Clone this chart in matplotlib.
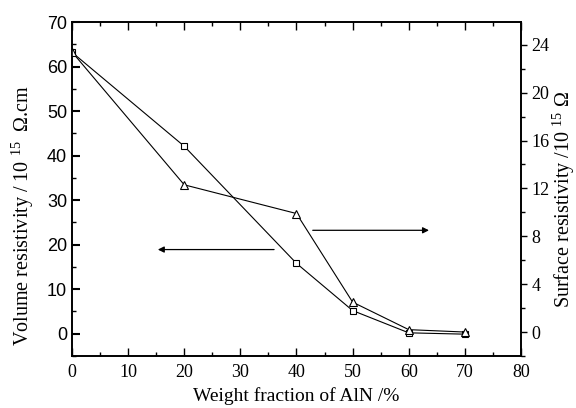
import matplotlib
matplotlib.use("Agg")
import matplotlib.pyplot as plt
from matplotlib.ticker import MultipleLocator

plt.rcParams['font.family'] = 'Liberation Serif'
plt.rcParams['mathtext.fontset'] = 'custom'
plt.rcParams['mathtext.rm'] = 'Liberation Serif'
plt.rcParams['mathtext.it'] = 'Liberation Serif:italic'

# data
aln_wt = [0, 20, 40, 50, 60, 70]
volume_res = [63.2, 42.1, 15.8, 5.2, 0.2, -0.1]     # 10^15 ohm.cm (left)
surface_res = [23.4, 12.3, 9.9, 2.5, 0.2, 0.0]      # 10^15 ohm (right)

fig = plt.figure(figsize=(5.76, 4.08), dpi=100)
ax1 = fig.add_axes([0.125, 0.1275, 0.7795, 0.8185])
ax2 = ax1.twinx()

ax1.plot(aln_wt, volume_res, color='black', lw=0.8, marker='s', ms=5,
         mfc='white', mec='black', mew=0.8)
ax2.plot(aln_wt, surface_res, color='black', lw=0.8, marker='^', ms=6,
         mfc='white', mec='black', mew=0.8)

ax1.set_xlim(0, 80)
ax1.set_ylim(-5, 70)
ax2.set_ylim(-2, 25.9)

ax1.xaxis.set_major_locator(MultipleLocator(10))
ax1.xaxis.set_minor_locator(MultipleLocator(5))
ax1.yaxis.set_major_locator(MultipleLocator(10))
ax1.yaxis.set_minor_locator(MultipleLocator(5))
ax2.yaxis.set_major_locator(MultipleLocator(4))
ax2.yaxis.set_minor_locator(MultipleLocator(2))

ax1.tick_params(axis='x', which='both', direction='in', top=True, bottom=True,
                labelsize=13, pad=6)
ax1.tick_params(axis='x', which='major', length=6, width=1)
ax1.tick_params(axis='x', which='minor', length=3, width=1)
ax1.tick_params(axis='y', which='both', direction='in', right=False)
ax1.tick_params(axis='y', which='major', length=6, width=1.5, labelsize=13)
ax1.tick_params(axis='y', which='minor', length=3, width=1)
for lab in ax1.get_yticklabels():
    lab.set_fontfamily('Liberation Sans')

ax2.tick_params(axis='y', which='both', direction='out', labelsize=13)
ax2.tick_params(axis='y', which='major', length=4, width=1)
ax2.tick_params(axis='y', which='minor', length=3, width=1)

for ax in (ax1, ax2):
    for s in ax.spines.values():
        s.set_linewidth(1.2)

ax1.set_xlabel('Weight fraction of AlN /%', fontsize=14, labelpad=4)
ax1.set_ylabel(r'Volume resistivity / 10 $^{15}$  Ω.cm', fontsize=14.5)
ax2.set_ylabel(r'Surface resistivity /10 $^{15}$ Ω', fontsize=14.5)
ax1.yaxis.set_label_coords(-0.08, 0.42)
ax2.yaxis.set_label_coords(1.067, 0.47)

# arrows pointing to the axis each curve belongs to
ax1.annotate('', xy=(14.8, 18.9), xytext=(36.5, 18.9),
             arrowprops=dict(arrowstyle='-|>', color='black', lw=0.9,
                             mutation_scale=9))
ax2.annotate('', xy=(64.1, 8.5), xytext=(42.4, 8.5),
             arrowprops=dict(arrowstyle='-|>', color='black', lw=0.9,
                             mutation_scale=9))

fig.savefig('out.png', dpi=100)
